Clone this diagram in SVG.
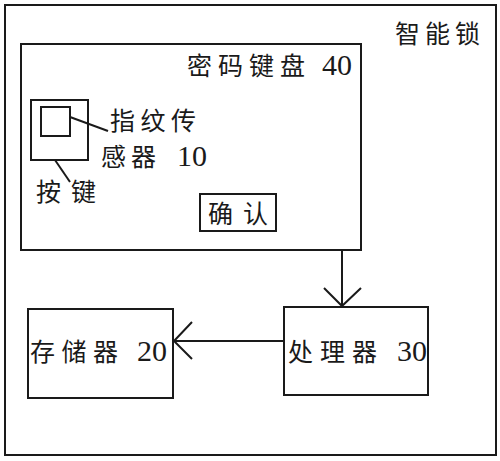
<svg xmlns="http://www.w3.org/2000/svg" width="500" height="461" viewBox="0 0 500 461">
<style>
.box{fill:none;stroke:#1a1a1a;stroke-width:2}
.ln{fill:none;stroke:#1a1a1a;stroke-width:2}
.t{font-family:"Noto Sans CJK SC",sans-serif;font-size:25px;fill:#1a1a1a}
.d{font-family:"Liberation Serif",serif;font-size:30px;fill:#1a1a1a}
</style>
<rect width="500" height="461" fill="#fff"/>
<g id="smart-lock">
<rect class="box" x="5" y="5" width="491" height="450"/>
<text class="t" x="395" y="43" textLength="85" lengthAdjust="spacing">智能锁</text>
</g>
<g id="keypad">
<rect class="box" x="21" y="44" width="340" height="206"/>
<text class="t" x="187" y="75" textLength="118" lengthAdjust="spacing">密码键盘</text>
<text class="d" x="322" y="75">40</text>
</g>
<g id="button">
<rect class="box" x="31" y="100" width="57" height="60"/>
<text class="t" x="36" y="201" textLength="60" lengthAdjust="spacing">按键</text>
</g>
<g id="fingerprint-sensor">
<rect class="box" x="41" y="107" width="29" height="29"/>
<text class="t" x="110" y="130" textLength="86" lengthAdjust="spacing">指纹传</text>
<text class="t" x="101" y="166" textLength="55" lengthAdjust="spacing">感器</text>
<text class="d" x="177" y="166">10</text>
</g>
<g id="confirm">
<rect class="box" x="200" y="194" width="76" height="37"/>
<text class="t" x="208" y="223" textLength="60" lengthAdjust="spacing">确认</text>
</g>
<g id="processor">
<rect class="box" x="284" y="307" width="144" height="88"/>
<text class="t" x="288" y="361" textLength="89" lengthAdjust="spacing">处理器</text>
<text class="d" x="397" y="361">30</text>
</g>
<g id="memory">
<rect class="box" x="28" y="309" width="145" height="89"/>
<text class="t" x="30" y="361" textLength="88" lengthAdjust="spacing">存储器</text>
<text class="d" x="137" y="361">20</text>
</g>
<g id="connectors">
<line class="ln" x1="70" y1="117" x2="108" y2="131"/>
<line class="ln" x1="55" y1="160" x2="70" y2="182"/>
<line class="ln" x1="342" y1="250" x2="342" y2="306"/>
<polyline class="ln" points="324,288 342,306 361,288"/>
<line class="ln" x1="284" y1="341" x2="174" y2="341"/>
<polyline class="ln" points="192,322 174,341 192,359"/>
</g>
</svg>
